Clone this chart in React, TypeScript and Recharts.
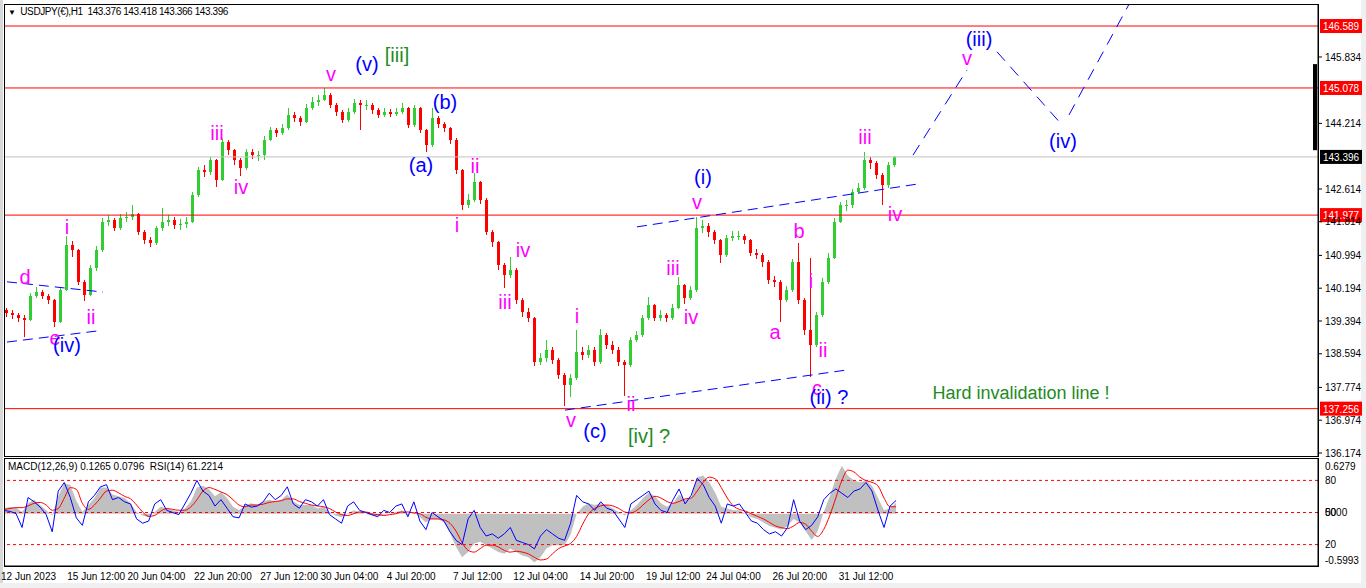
import React from "react"
import {
  ComposedChart,
  Bar,
  Line,
  Area,
  XAxis,
  YAxis,
  ReferenceLine,
  ReferenceDot,
} from "recharts"

const FONT = "'Liberation Sans', Arial, sans-serif"

// USDJPY H1, one candle for every 6 hourly bars (open = previous close)
const firstOpen = 139.65
const closes = [
  139.59, 139.54, 139.47, 139.42, 140.0, 140.1, 140.0, 139.91, 139.37, 140.15,
  141.25, 141.13, 140.35, 140.03, 140.69, 141.13, 141.81, 141.86, 141.66, 141.91,
  141.93, 142.0, 141.56, 141.37, 141.3, 141.66, 141.81, 141.86, 141.74, 141.76,
  141.81, 142.47, 143.08, 143.03, 143.32, 142.83, 143.76, 143.56, 143.32, 143.13,
  143.52, 143.44, 143.44, 143.81, 144.05, 143.98, 144.1, 144.42, 144.35, 144.25,
  144.59, 144.74, 144.78, 144.91, 144.66, 144.49, 144.3, 144.49, 144.71, 144.66,
  144.66, 144.54, 144.42, 144.49, 144.44, 144.49, 144.59, 144.17, 144.59, 144.05,
  143.69, 144.35, 144.2, 144.1, 143.81, 143.08, 142.22, 142.35, 142.78, 142.35,
  141.56, 141.32, 140.76, 140.52, 140.64, 139.91, 139.61, 139.47, 138.39, 138.49,
  138.69, 138.44, 138.08, 137.83, 138.0, 138.64, 138.56, 138.69, 138.39, 139.05,
  138.81, 138.69, 138.39, 138.32, 138.93, 139.05, 139.47, 139.78, 139.47, 139.54,
  139.47, 139.71, 140.27, 139.96, 140.15, 141.66, 141.71, 141.56, 141.37, 141.0,
  141.42, 141.47, 141.47, 141.37, 141.05, 141.0, 140.83, 140.39, 140.35, 139.91,
  140.15, 140.83, 139.91, 139.17, 138.81, 139.54, 140.35, 140.93, 141.81, 142.22,
  142.22, 142.54, 142.64, 143.32, 143.25, 142.96, 142.71, 143.2, 143.396,
]
const highs = [
  139.72, 139.66, 139.6, 139.55, 140.08, 140.22, 140.15, 140.05, 139.93, 140.22,
  141.47, 141.35, 141.15, 140.4, 140.75, 141.22, 141.9, 141.98, 141.9, 142.0,
  142.05, 142.22, 142.02, 141.62, 141.45, 141.72, 142.15, 141.98, 141.92, 141.88,
  141.92, 142.55, 143.15, 143.2, 143.4, 143.35, 143.86, 143.8, 143.6, 143.38,
  143.6, 143.58, 143.55, 143.9, 144.12, 144.1, 144.2, 144.59, 144.5, 144.4,
  144.68, 144.85, 144.9, 145.08, 144.95, 144.7, 144.55, 144.58, 144.8, 144.78,
  144.78, 144.7, 144.6, 144.58, 144.56, 144.58, 144.71, 144.62, 144.66, 144.62,
  144.08, 144.59, 144.4, 144.25, 144.12, 143.85, 143.1, 142.48, 143.0, 142.82,
  142.4, 141.62, 141.35, 140.82, 140.95, 140.68, 139.95, 139.7, 139.5, 138.62,
  138.93, 138.75, 138.5, 138.12, 138.1, 139.17, 138.75, 138.8, 138.75, 139.2,
  139.1, 138.9, 138.75, 138.45, 139.0, 139.15, 139.55, 139.98, 139.82, 139.65,
  139.6, 139.8, 140.47, 140.3, 140.25, 141.93, 141.85, 141.78, 141.62, 141.4,
  141.5, 141.58, 141.6, 141.52, 141.4, 141.15, 141.05, 140.88, 140.5, 140.4,
  140.25, 140.9, 141.3, 139.95, 140.93, 139.62, 140.45, 141.05, 141.9, 142.3,
  142.35, 142.62, 142.75, 143.52, 143.4, 143.3, 143.0, 143.28, 143.42,
]
const lows = [
  139.5, 139.45, 139.38, 139.0, 139.4, 139.95, 139.92, 139.8, 139.25, 139.35,
  140.12, 140.95, 140.28, 139.88, 140.0, 140.62, 141.08, 141.72, 141.58, 141.62,
  141.8, 141.85, 141.48, 141.28, 141.2, 141.25, 141.6, 141.7, 141.64, 141.62,
  141.66, 141.78, 142.42, 142.9, 142.95, 142.66, 142.8, 143.45, 143.2, 142.93,
  143.08, 143.35, 143.3, 143.32, 143.78, 143.88, 143.92, 144.05, 144.25, 144.15,
  144.22, 144.55, 144.65, 144.75, 144.58, 144.4, 144.22, 144.25, 144.45, 144.05,
  144.55, 144.45, 144.35, 144.38, 144.36, 144.4, 144.45, 144.1, 144.12, 143.98,
  143.52, 143.65, 144.1, 144.0, 143.72, 142.98, 142.1, 142.15, 142.3, 142.25,
  141.48, 141.2, 140.65, 140.2, 140.45, 139.82, 139.5, 139.36, 138.3, 138.32,
  138.4, 138.35, 137.98, 137.32, 137.55, 137.95, 138.45, 138.5, 138.3, 138.35,
  138.72, 138.6, 138.3, 137.56, 138.28, 138.88, 139.0, 139.42, 139.4, 139.4,
  139.38, 139.42, 139.68, 139.8, 139.9, 140.1, 141.55, 141.45, 141.28, 140.81,
  140.95, 141.35, 141.38, 141.28, 140.98, 140.9, 140.72, 140.3, 140.22, 139.37,
  139.85, 140.1, 139.8, 139.05, 138.03, 138.75, 139.5, 140.3, 140.9, 141.78,
  142.08, 142.15, 142.48, 142.6, 143.1, 142.85, 142.22, 142.65, 143.15,
]

// MACD(12,26,9) main + signal, RSI(14)
const macd = [
  0.06, 0.08, 0.07, 0.02, 0.12, 0.16, 0.1, 0.04, -0.02, 0.2,
  0.35, 0.33, 0.15, 0.02, 0.1, 0.18, 0.3, 0.3, 0.22, 0.2,
  0.18, 0.12, 0.02, -0.02, -0.04, 0.02, 0.08, 0.06, 0.04, 0.02,
  0.06, 0.14, 0.3, 0.32, 0.28, 0.2, 0.25, 0.18, 0.08, 0.04,
  0.1, 0.12, 0.1, 0.14, 0.16, 0.14, 0.16, 0.22, 0.14, 0.1,
  0.1, 0.1, 0.06, 0.08, 0.02, -0.02, -0.04, 0.0, 0.04, 0.02,
  0.0, -0.02, -0.03, -0.01, 0.0, 0.02, 0.04, -0.02, 0.02, -0.04,
  -0.1, -0.06, -0.06, -0.1, -0.22, -0.38, -0.5, -0.44, -0.34, -0.32,
  -0.36, -0.4, -0.44, -0.46, -0.4, -0.44, -0.48, -0.5, -0.56, -0.5,
  -0.4, -0.36, -0.36, -0.36, -0.24, 0.0, 0.08, 0.12, 0.1, 0.12,
  0.1, 0.06, 0.02, -0.02, 0.04, 0.1, 0.18, 0.24, 0.2, 0.12,
  0.08, 0.12, 0.22, 0.16, 0.18, 0.42, 0.44, 0.36, 0.24, 0.08,
  0.06, 0.04, 0.04, 0.0, -0.04, -0.06, -0.1, -0.14, -0.16, -0.18,
  -0.14, -0.06, -0.1, -0.2, -0.3, -0.2, 0.02, 0.2, 0.4, 0.55,
  0.44, 0.38, 0.36, 0.38, 0.32, 0.18, 0.04, 0.06, 0.1265,
]
const signal = [
  0.05, 0.06, 0.07, 0.07, 0.09, 0.12, 0.13, 0.1, 0.04, 0.06,
  0.18, 0.3, 0.28, 0.12, 0.05, 0.1, 0.18, 0.26, 0.27, 0.24,
  0.2, 0.17, 0.1, 0.02, -0.03, -0.02, 0.03, 0.06, 0.05, 0.04,
  0.04, 0.08, 0.16, 0.26, 0.3, 0.28, 0.25, 0.22, 0.16, 0.1,
  0.08, 0.1, 0.1, 0.11, 0.13, 0.14, 0.15, 0.17, 0.17, 0.14,
  0.12, 0.1, 0.09, 0.08, 0.06, 0.02, -0.01, -0.02, 0.0, 0.02,
  0.02, 0.0, -0.01, -0.02, -0.01, 0.0, 0.02, 0.02, 0.01, 0.0,
  -0.04, -0.06, -0.06, -0.07, -0.11, -0.2, -0.33, -0.42, -0.44, -0.4,
  -0.36, -0.36, -0.38, -0.42, -0.44, -0.43, -0.44, -0.46, -0.5, -0.53,
  -0.52, -0.46, -0.4, -0.37, -0.34, -0.26, -0.12, 0.0, 0.06, 0.09,
  0.1, 0.09, 0.06, 0.02, 0.01, 0.04, 0.1, 0.16, 0.2, 0.18,
  0.14, 0.12, 0.14, 0.17, 0.18, 0.26, 0.36, 0.42, 0.4, 0.3,
  0.18, 0.09, 0.05, 0.03, 0.0, -0.03, -0.06, -0.1, -0.14, -0.16,
  -0.17, -0.14, -0.1, -0.12, -0.2, -0.26, -0.18, -0.02, 0.18, 0.38,
  0.5, 0.48, 0.42, 0.38, 0.36, 0.32, 0.18, 0.08, 0.0796,
]
const rsi = [
  52, 51, 49, 36, 64, 60, 55, 48, 32, 70,
  78, 64, 45, 38, 60, 66, 74, 76, 62, 64,
  60, 58, 44, 40, 42, 58, 62, 52, 50, 48,
  58, 68, 80, 70, 66, 56, 62, 54, 46, 45,
  58, 55, 56, 60, 68, 62, 66, 74, 58, 54,
  62, 60, 56, 62, 48, 44, 40, 56, 60, 52,
  50, 48, 46, 52, 50, 56, 58, 46, 60, 42,
  34, 50, 46, 42, 32, 24, 20, 44, 52, 36,
  28, 30, 26, 30, 36, 24, 22, 20, 16, 28,
  34, 30, 26, 24, 40, 66, 60, 58, 52, 60,
  54, 52, 44, 36, 58, 62, 66, 70, 58, 52,
  50, 62, 72, 58, 66, 82, 76, 64, 56, 40,
  58, 56, 58, 50, 42, 40, 34, 30, 32, 28,
  36, 62, 42, 34, 38, 46, 62, 68, 72, 68,
  64, 70, 72, 78, 70, 52, 36, 56, 61.2214,
]

const levels = [146.589, 145.078, 141.977, 137.256]
const lastPrice = 143.396
const priceTicks = [
  136.174, 136.974, 137.774, 138.594, 139.394, 140.194, 140.994, 141.814,
  142.614, 144.214, 145.834,
]
const macdTop = 0.6279
const macdBottom = -0.5993
const rsiLevels = [80, 50, 20]

const xTickSlots = [0, 11, 21, 32, 43, 53, 64, 75, 85, 96, 107, 117, 128, 139]
const xTickLabels = [
  "12 Jun 2023", "15 Jun 12:00", "20 Jun 04:00", "22 Jun 20:00", "27 Jun 12:00",
  "30 Jun 04:00", "4 Jul 20:00", "7 Jul 12:00", "12 Jul 04:00", "14 Jul 20:00",
  "19 Jul 12:00", "24 Jul 04:00", "26 Jul 20:00", "31 Jul 12:00",
]

// wave counts: [slot, price, text]
const minorWaves: [number, number, string][] = [
  [3, 140.47, "d"], [8, 138.98, "e"], [10, 141.69, "i"], [14, 139.49, "ii"],
  [35, 143.98, "iii"], [39, 142.66, "iv"], [54, 145.42, "v"],
  [75, 141.74, "i"], [78, 143.17, "ii"], [83, 139.86, "iii"], [86, 141.13, "iv"],
  [94, 136.98, "v"], [95, 139.52, "i"], [104, 137.37, "ii"], [111, 140.69, "iii"],
  [114, 139.49, "iv"], [115, 142.3, "v"], [128, 139.13, "a"], [132, 141.59, "b"],
  [134, 140.37, "i"], [136, 138.69, "ii"], [135, 137.76, "c"], [143, 143.88, "iii"],
  [148, 142.0, "iv"], [160, 145.81, "v"],
]
const majorWaves: [number, number, string][] = [
  [10, 138.81, "(iv)"], [60, 145.66, "(v)"], [69, 143.2, "(a)"], [73, 144.74, "(b)"],
  [98, 136.71, "(c)"], [116, 142.91, "(i)"], [137, 137.54, "(ii) ?"],
  [162, 146.27, "(iii)"], [176, 143.78, "(iv)"],
]
const greenNotes: [number, number, string, number][] = [
  [65, 145.88, "[iii]", 20], [107, 136.59, "[iv] ?", 20],
  [169, 137.64, "Hard invalidation line !", 18],
]

// dashed lines: [slot1, price1, slot2, price2]
const channelLines = [
  [0, 140.35, 16, 140.1],
  [0, 138.88, 15, 139.15],
  [105, 141.69, 152, 142.74],
  [93, 137.22, 140, 138.2],
]
const projectionLines = [
  [151, 143.44, 160, 145.52],
  [165, 145.96, 176, 144.15],
  [177, 144.42, 187, 147.12],
]

const SLOTS = 219
const rows = Array.from({ length: SLOTS }, (_, i) => {
  if (i >= closes.length) return { i }
  return {
    i,
    open: i === 0 ? firstOpen : closes[i - 1],
    close: closes[i],
    high: highs[i],
    low: lows[i],
    range: [lows[i], highs[i]],
    macd: macd[i],
    signal: signal[i],
    rsi: rsi[i],
  }
})

const Candle = (props: any) => {
  const { x, y, height, payload } = props
  if (!payload || payload.high == null || height == null) return null
  const top = Math.min(y, y + height)
  const h = Math.abs(height)
  const k = h / (payload.high - payload.low)
  const py = (p: number) => top + (payload.high - p) * k
  const color = payload.close >= payload.open ? "#32CD32" : "#FF0000"
  const bTop = py(Math.max(payload.open, payload.close))
  const bBot = py(Math.min(payload.open, payload.close))
  const cx = Math.round(x) + 1.5
  return (
    <g shapeRendering="crispEdges">
      <line x1={cx} x2={cx} y1={top} y2={top + h} stroke={color} strokeWidth={1} />
      <rect x={Math.round(x)} y={bTop} width={3} height={Math.max(1, bBot - bTop)} fill={color} />
    </g>
  )
}

const PriceTag = (props: any) => {
  const { viewBox, price, bg } = props
  if (!viewBox) return null
  const x = viewBox.x + viewBox.width + 2
  const y = viewBox.y
  return (
    <g>
      <rect x={x} y={y - 7} width={42} height={14} fill={bg} />
      <text x={x + 21} y={y + 4} textAnchor="middle" fill="#fff" fontSize={10} fontFamily={FONT}>
        {price.toFixed(3)}
      </text>
    </g>
  )
}

const DateTick = (props: any) => {
  const { x, y, payload } = props
  const n = xTickSlots.indexOf(payload.value)
  return (
    <text x={x - 3} y={y + 6} textAnchor="start" fontSize={10} fontFamily={FONT} fill="#000">
      {xTickLabels[n]}
    </text>
  )
}

const SubTick = (props: any) => {
  const { x, y, payload } = props
  const v = payload.value
  const text = v === 100 ? macdTop.toFixed(4) : v === 0 ? macdBottom.toFixed(4) : String(v)
  const dy = v === 100 ? 7 : v === 0 ? -6 : 0
  return (
    <g fontSize={10} fontFamily={FONT} fill="#000">
      {v === 50 && (
        <text x={x} y={y + 3.5} textAnchor="start">0000</text>
      )}
      <text x={x} y={y + dy + 3.5} textAnchor="start">{text}</text>
    </g>
  )
}

const waveLabel = (value: string, fill: string, fontSize = 20) => ({
  value,
  position: "center" as const,
  fill,
  fontSize,
  fontFamily: FONT,
})

export default function App() {
  return (
    <div
      style={{
        position: "absolute",
        left: 0,
        top: 0,
        width: 1366,
        height: 588,
        background: "#fff",
        overflow: "hidden",
        fontFamily: FONT,
      }}
    >
      <div style={{ position: "absolute", left: 0, top: 0, width: 3, height: 588, background: "#D8D8D8" }} />
      <div style={{ position: "absolute", left: 1361, top: 0, width: 5, height: 588, background: "#F0F0F0" }} />
      <div style={{ position: "absolute", left: 0, top: 583, width: 1366, height: 5, background: "#F0F0F0" }} />

      <div style={{ position: "absolute", left: 0, top: 0 }}>
        <ComposedChart width={1366} height={458} data={rows} margin={{ top: 4, right: 0, bottom: 2, left: 4 }}>
          <XAxis dataKey="i" hide />
          <YAxis
            orientation="right"
            type="number"
            domain={[136.101, 147.126]}
            allowDataOverflow
            ticks={priceTicks}
            interval={0}
            width={48}
            stroke="#000"
            tickSize={4}
            tickMargin={3}
            tick={{ fontSize: 10, fill: "#000", fontFamily: FONT }}
            tickFormatter={(v: number) => v.toFixed(3)}
          />
          <ReferenceLine y={lastPrice} stroke="#C0C0C0" label={<PriceTag bg="#000" price={lastPrice} />} />
          {levels.map((l) => (
            <ReferenceLine key={l} y={l} stroke="#FF0000" label={<PriceTag bg="#FF0000" price={l} />} />
          ))}
          <Bar dataKey="range" barSize={4} isAnimationActive={false} shape={(p: any) => <Candle {...p} />} />
          {channelLines.map(([s1, p1, s2, p2], n) => (
            <ReferenceLine
              key={"c" + n}
              segment={[{ x: s1, y: p1 }, { x: s2, y: p2 }]}
              stroke="#0000FF"
              strokeDasharray="10 6"
            />
          ))}
          {projectionLines.map(([s1, p1, s2, p2], n) => (
            <ReferenceLine
              key={"p" + n}
              segment={[{ x: s1, y: p1 }, { x: s2, y: p2 }]}
              stroke="#0000FF"
              strokeDasharray="12 8"
            />
          ))}
          {minorWaves.map(([s, p, t], n) => (
            <ReferenceDot key={"m" + n} x={s} y={p} r={1} fill="none" stroke="none" label={waveLabel(t, "#FF00FF")} />
          ))}
          {majorWaves.map(([s, p, t], n) => (
            <ReferenceDot key={"M" + n} x={s} y={p} r={1} fill="none" stroke="none" label={waveLabel(t, "#0000FF")} />
          ))}
          {greenNotes.map(([s, p, t, fs], n) => (
            <ReferenceDot key={"g" + n} x={s} y={p} r={1} fill="none" stroke="none" label={waveLabel(t, "#228B22", fs)} />
          ))}
          <ReferenceLine
            segment={[{ x: SLOTS - 1, y: 145.66 }, { x: SLOTS - 1, y: 143.56 }]}
            stroke="#000"
            strokeWidth={4}
          />
        </ComposedChart>
      </div>

      <div style={{ position: "absolute", left: 0, top: 455 }}>
        <ComposedChart width={1366} height={133} data={rows} margin={{ top: 4, right: 0, bottom: 0, left: 4 }}>
          <XAxis
            dataKey="i"
            ticks={xTickSlots}
            interval={0}
            height={22}
            stroke="#000"
            tickLine={false}
            tick={<DateTick />}
          />
          <YAxis
            yAxisId="rsi"
            orientation="right"
            type="number"
            domain={[0, 100]}
            ticks={[0, 20, 50, 80, 100]}
            interval={0}
            width={48}
            stroke="#000"
            tickSize={4}
            tickMargin={3}
            tickLine={false}
            tick={<SubTick />}
          />
          <YAxis yAxisId="macd" hide type="number" domain={[macdBottom, macdTop]} allowDataOverflow />
          <Area
            yAxisId="macd"
            dataKey="macd"
            type="linear"
            baseValue={0}
            fill="#C0C0C0"
            fillOpacity={1}
            stroke="none"
            isAnimationActive={false}
          />
          {rsiLevels.map((l) => (
            <ReferenceLine key={l} yAxisId="rsi" y={l} stroke="#FF0000" strokeDasharray="3 3" />
          ))}
          <Line yAxisId="macd" dataKey="signal" type="monotone" stroke="#FF0000" strokeWidth={1} dot={false} isAnimationActive={false} />
          <Line yAxisId="rsi" dataKey="rsi" type="linear" stroke="#0000FF" strokeWidth={1} dot={false} isAnimationActive={false} />
        </ComposedChart>
      </div>

      <div style={{ position: "absolute", left: 4, top: 4, width: 1315, height: 453, boxSizing: "border-box", border: "1px solid #000", pointerEvents: "none" }} />
      <div style={{ position: "absolute", left: 4, top: 458, width: 1315, height: 109, boxSizing: "border-box", border: "1px solid #000", pointerEvents: "none" }} />

      <div style={{ position: "absolute", left: 8, top: 6, fontSize: 10, letterSpacing: -0.4, color: "#000", whiteSpace: "pre" }}>
        <span style={{ fontSize: 8 }}>▼</span>
        {"  USDJPY(€),H1  143.376 143.418 143.366 143.396"}
      </div>
      <div style={{ position: "absolute", left: 8, top: 461, fontSize: 10, color: "#000", whiteSpace: "pre" }}>
        {"MACD(12,26,9) 0.1265 0.0796  RSI(14) 61.2214"}
      </div>
    </div>
  )
}
